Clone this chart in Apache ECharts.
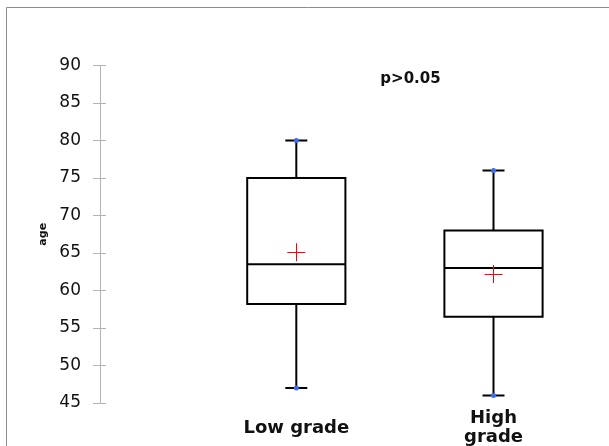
<!DOCTYPE html>
<html>
<head>
<meta charset="utf-8">
<script src="https://cdn.jsdelivr.net/npm/echarts@6/dist/echarts.min.js"></script>
<style>html,body{margin:0;padding:0;background:#fff;}#c{width:609px;height:446px;}</style>
</head>
<body>
<div id="c"></div>
<script>
const categories = ['Low grade', 'High grade'];
const minVals = [47, 46];
const q1Vals = [58.2, 56.5];
const medianVals = [63.5, 63];
const q3Vals = [75, 68];
const maxVals = [80, 76];
const meanVals = [65.1, 62.2];
const yMin = 45, yMax = 90, yStep = 5;
const yName = 'age';
const annotation = 'p>0.05';

const rows = categories.map((c, i) => [i, minVals[i], q1Vals[i], medianVals[i], q3Vals[i], maxVals[i], meanVals[i]]);

const chart = echarts.init(document.getElementById('c'), null, {renderer: 'canvas'});

function renderBox(params, api) {
  const i = api.value(0);
  const pMin = api.coord([i, api.value(1)]);
  const pQ1 = api.coord([i, api.value(2)]);
  const pMed = api.coord([i, api.value(3)]);
  const pQ3 = api.coord([i, api.value(4)]);
  const pMax = api.coord([i, api.value(5)]);
  const pMean = api.coord([i, api.value(6)]);
  const band = api.size([1, 0])[0];
  const hw = band * 0.249;
  const cap = 11;
  const cx = pMin[0];
  const blk = {stroke: '#000', lineWidth: 2, fill: null};
  const red = {stroke: '#ff0000', lineWidth: 1};
  return {
    type: 'group',
    children: [
      {type: 'line', shape: {x1: cx, y1: pMax[1], x2: cx, y2: pQ3[1]}, style: blk},
      {type: 'line', shape: {x1: cx, y1: pQ1[1], x2: cx, y2: pMin[1]}, style: blk},
      {type: 'line', shape: {x1: cx - cap, y1: pMax[1], x2: cx + cap, y2: pMax[1]}, style: blk},
      {type: 'line', shape: {x1: cx - cap, y1: pMin[1], x2: cx + cap, y2: pMin[1]}, style: blk},
      {type: 'rect', shape: {x: cx - hw, y: pQ3[1], width: hw * 2, height: pQ1[1] - pQ3[1]}, style: {stroke: '#000', lineWidth: 2, fill: '#fff'}},
      {type: 'line', shape: {x1: cx - hw, y1: pMed[1], x2: cx + hw, y2: pMed[1]}, style: blk},
      {type: 'line', shape: {x1: cx - 9, y1: Math.round(pMean[1]) + 0.5, x2: cx + 9, y2: Math.round(pMean[1]) + 0.5}, style: red},
      {type: 'line', shape: {x1: Math.round(cx) + 0.5, y1: pMean[1] - 9, x2: Math.round(cx) + 0.5, y2: pMean[1] + 9}, style: red},
      {type: 'circle', shape: {cx: cx, cy: pMax[1], r: 2.5}, style: {fill: '#3a6cf4'}},
      {type: 'circle', shape: {cx: cx, cy: pMin[1], r: 2.5}, style: {fill: '#3a6cf4'}}
    ]
  };
}

const labelStyle = {
  color: '#111',
  fontFamily: 'DejaVu Sans',
  fontWeight: 'bold',
  fontSize: 18,
  lineHeight: 19,
  verticalAlign: 'middle'
};

const option = {
  backgroundColor: '#fff',
  animation: false,
  grid: {left: 197.7, top: 65.5, width: 394.4, height: 337.5, containLabel: false, outerBoundsMode: 'none'},
  xAxis: {
    type: 'category',
    data: [
      {value: categories[0], textStyle: Object.assign({}, labelStyle)},
      {value: categories[1], textStyle: Object.assign({}, labelStyle, {padding: [0, 0, 7, 0]})}
    ],
    axisLine: {show: false},
    axisTick: {show: false},
    splitLine: {show: false},
    axisLabel: Object.assign({
      interval: 0,
      margin: 25,
      formatter: v => v === 'High grade' ? 'High\ngrade' : v
    }, labelStyle)
  },
  yAxis: [
    {
      type: 'value', min: yMin, max: yMax, interval: yStep,
      position: 'left', offset: 97.7,
      name: yName, nameLocation: 'middle', nameRotate: 90, nameGap: 51,
      nameTextStyle: {fontFamily: 'DejaVu Sans', fontWeight: 'bold', fontSize: 11, color: '#111'},
      axisLine: {show: true, lineStyle: {color: '#b4b4b4', width: 1}},
      axisTick: {show: true, length: 7, lineStyle: {color: '#b4b4b4'}},
      axisLabel: {margin: 19, color: '#111', fontFamily: 'DejaVu Sans', fontSize: 17},
      splitLine: {show: false}
    },
    {
      type: 'value', min: yMin, max: yMax, interval: yStep,
      position: 'left', offset: 97.7,
      axisLine: {show: false},
      axisTick: {show: true, inside: true, length: 6, lineStyle: {color: '#b4b4b4'}},
      axisLabel: {show: false},
      splitLine: {show: false}
    }
  ],
  series: [{
    type: 'custom',
    renderItem: renderBox,
    encode: {x: 0, y: [1, 2, 3, 4, 5, 6]},
    data: rows,
    z: 5
  }],
  graphic: [
    {type: 'rect', shape: {x: 6.5, y: 7.5, width: 700, height: 500}, style: {stroke: '#8c8c8c', lineWidth: 1, fill: null}, z: 1, silent: true},
    {type: 'text', x: 410.5, y: 79, style: {text: annotation, font: 'bold 15px "DejaVu Sans"', fill: '#111', align: 'center', verticalAlign: 'middle'}, z: 10}
  ]
};
chart.setOption(option);
</script>
</body>
</html>
